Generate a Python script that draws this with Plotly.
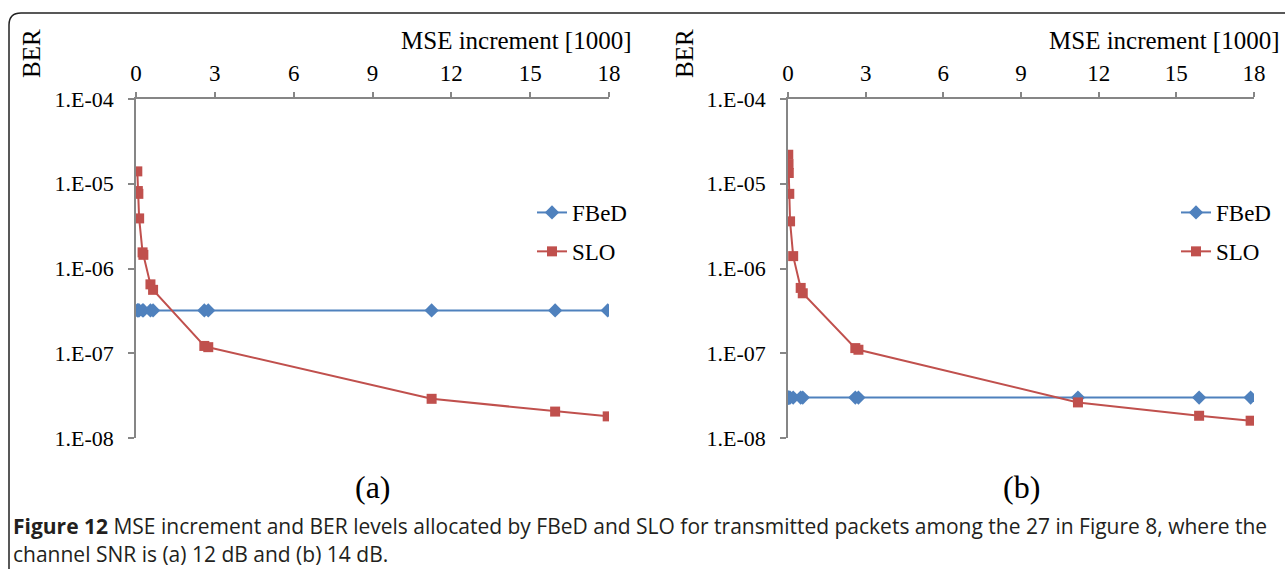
import plotly.graph_objects as go

W, H = 1285, 569

# ---------------- data ----------------
x_a = [0.05, 0.07, 0.09, 0.12, 0.25, 0.28, 0.55, 0.65, 2.6, 2.75, 11.25, 15.95, 17.95]
fbed_a = [3.2e-7, 3.2e-7, 3.2e-7, 3.2e-7, 3.2e-7, 3.2e-7, 3.2e-7, 3.2e-7, 3.2e-7, 3.2e-7, 3.2e-7, 3.2e-7, 3.2e-7]
slo_a = [1.4e-5, 8.2e-6, 7.6e-6, 3.9e-6, 1.55e-6, 1.45e-6, 6.5e-7, 5.6e-7, 1.22e-7, 1.18e-7, 2.9e-8, 2.05e-8, 1.8e-8]

x_b = [0.01, 0.02, 0.03, 0.05, 0.08, 0.2, 0.49, 0.57, 2.6, 2.72, 11.2, 15.88, 17.87]
fbed_b = [3.0e-8, 3.0e-8, 3.0e-8, 3.0e-8, 3.0e-8, 3.0e-8, 3.0e-8, 3.0e-8, 3.0e-8, 3.0e-8, 3.0e-8, 3.0e-8, 3.0e-8]
slo_b = [2.2e-5, 1.7e-5, 1.34e-5, 7.6e-6, 3.6e-6, 1.4e-6, 5.9e-7, 5.1e-7, 1.15e-7, 1.1e-7, 2.63e-8, 1.83e-8, 1.6e-8]

x_ticks = [0, 3, 6, 9, 12, 15, 18]
y_ticks = [1e-8, 1e-7, 1e-6, 1e-5, 1e-4]
y_ticktext = ["1.E-08", "1.E-07", "1.E-06", "1.E-05", "1.E-04"]
series_names = ["FBeD", "SLO"]
panel_labels = ["(a)", "(b)"]
x_title = "MSE increment [1000]"
y_title = "BER"
caption_1 = ("<b>Figure 12</b> MSE increment and BER levels allocated by FBeD and SLO for "
             "transmitted packets among the 27 in Figure 8, where the")
caption_2 = "channel SNR is (a) 12 dB and (b) 14 dB."

BLUE = "#4F81BD"
RED = "#C0504D"
GRAY = "#868686"
SERIF = "Liberation Serif"
SANS = "Open Sans"


def px(x):
    return x / W


def py(y):
    return 1 - y / H


fig = go.Figure()

panels = [
    dict(x=x_a, f=fbed_a, s=slo_a, xa="x", ya="y", lg="legend"),
    dict(x=x_b, f=fbed_b, s=slo_b, xa="x2", ya="y2", lg="legend2"),
]

for i, p in enumerate(panels):
    fig.add_trace(go.Scatter(
        x=p["x"], y=p["f"], xaxis=p["xa"], yaxis=p["ya"], name=series_names[0],
        mode="lines+markers", line=dict(color=BLUE, width=2),
        marker=dict(symbol="diamond", size=11, color=BLUE),
        legend=p["lg"], legendgroup=f"f{i}"))
    fig.add_trace(go.Scatter(
        x=p["x"], y=p["s"], xaxis=p["xa"], yaxis=p["ya"], name=series_names[1],
        mode="lines+markers", line=dict(color=RED, width=2),
        marker=dict(symbol="square", size=10, color=RED),
        legend=p["lg"], legendgroup=f"s{i}"))

y_dom = (py(438), py(99))

xcommon = dict(range=[0, 18], tickvals=x_ticks, side="top", showgrid=False, zeroline=False,
               showline=True, linecolor=GRAY, linewidth=1.5, ticks="outside", ticklen=5,
               tickcolor=GRAY, tickwidth=1.5, tickfont=dict(family=SERIF, size=23, color="black"),
               ticklabelstandoff=2, automargin=False)
ycommon = dict(type="log", range=[-8, -4], tickvals=y_ticks, ticktext=y_ticktext, showgrid=False,
               zeroline=False, showline=True, linecolor=GRAY, linewidth=1.5, ticks="outside",
               ticklen=6, tickcolor=GRAY, tickwidth=1.5,
               tickfont=dict(family=SERIF, size=22, color="black"), ticklabelstandoff=10,
               automargin=False, domain=y_dom)

legcommon = dict(font=dict(family=SERIF, size=23, color="black"), bgcolor="rgba(0,0,0,0)",
                 traceorder="grouped", tracegroupgap=6, xanchor="left", yanchor="top",
                 itemwidth=30)

fig.update_layout(
    width=W, height=H, margin=dict(l=0, r=0, t=0, b=0),
    paper_bgcolor="white", plot_bgcolor="white",
    xaxis=dict(**xcommon, domain=[px(136), px(609)], anchor="y"),
    yaxis=dict(**ycommon, anchor="x"),
    xaxis2=dict(**xcommon, domain=[px(788), px(1254)], anchor="y2"),
    yaxis2=dict(**ycommon, anchor="x2"),
    legend=dict(**legcommon, x=px(532), y=py(191)),
    legend2=dict(**legcommon, x=px(1176), y=py(191)),
    showlegend=True,
)

ann = []
for xr in [634, 1282]:
    ann.append(dict(text=x_title, x=px(xr), y=py(40), xref="paper", yref="paper",
                    xanchor="right", yanchor="middle", showarrow=False,
                    font=dict(family=SERIF, size=25, color="black")))
for xc in [32, 685]:
    ann.append(dict(text=y_title, x=px(xc), y=py(54), xref="paper", yref="paper",
                    xanchor="center", yanchor="middle", textangle=-90, showarrow=False,
                    font=dict(family=SERIF, size=25, color="black")))
for xc, lab in [(373, panel_labels[0]), (1022, panel_labels[1])]:
    ann.append(dict(text=lab, x=px(xc), y=py(487), xref="paper", yref="paper",
                    xanchor="center", yanchor="middle", showarrow=False,
                    font=dict(family=SERIF, size=32, color="black")))
ann.append(dict(text=caption_1, x=px(11), y=py(526), xref="paper", yref="paper",
                xanchor="left", yanchor="middle", showarrow=False,
                font=dict(family=SANS, size=21, color="#231F20")))
ann.append(dict(text=caption_2, x=px(11), y=py(554), xref="paper", yref="paper",
                xanchor="left", yanchor="middle", showarrow=False,
                font=dict(family=SANS, size=21, color="#231F20")))
fig.update_layout(annotations=ann)

# rounded frame around the figure
r = 12
path = (f"M {px(9)},{py(569+5)} L {px(9)},{py(13 + r)} "
        f"Q {px(9)},{py(13)} {px(9 + r)},{py(13)} L {px(1300)},{py(13)}")
fig.add_shape(type="path", path=path, xref="paper", yref="paper",
              line=dict(color="#222222", width=1.5))

fig.write_html("out.html")
